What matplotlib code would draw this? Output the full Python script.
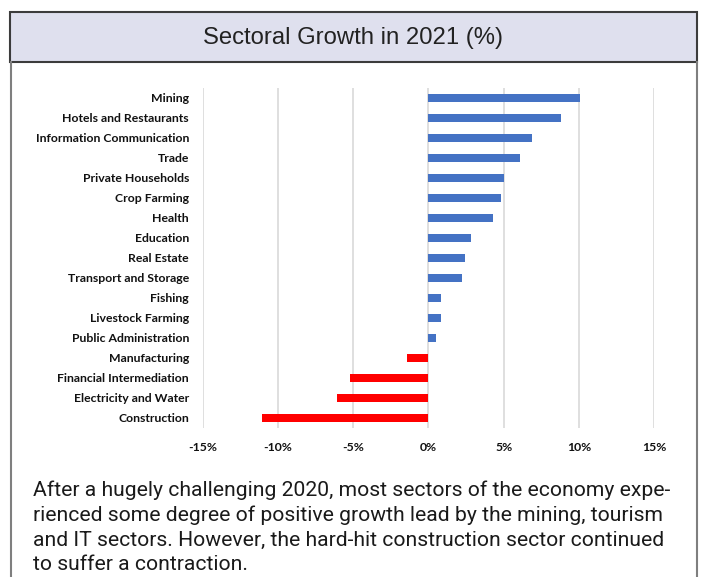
import matplotlib.pyplot as plt
from matplotlib.patches import Rectangle
from matplotlib.lines import Line2D

# Sector growth for 2021, top row first
sectors = ["Mining", "Hotels and Restaurants", "Information Communication", "Trade",
           "Private Households", "Crop Farming", "Health", "Education", "Real Estate",
           "Transport and Storage", "Fishing", "Livestock Farming", "Public Administration",
           "Manufacturing", "Financial Intermediation", "Electricity and Water", "Construction"]
growth = [10.1, 8.8, 6.9, 6.1, 5.0, 4.85, 4.3, 2.8, 2.45, 2.2, 0.8, 0.8, 0.5,
          -1.4, -5.25, -6.1, -11.1]
ticks = [-15, -10, -5, 0, 5, 10, 15]

title = "Sectoral Growth in 2021 (%)"
caption = ["After a hugely challenging 2020, most sectors of the economy expe-",
           "rienced some degree of positive growth lead by the mining, tourism",
           "and IT sectors. However, the hard-hit construction sector continued",
           "to suffer a contraction."]

W, H = 701, 577
fig = plt.figure(figsize=(W / 100, H / 100), dpi=100)

def px(x, y):
    return x / W, 1 - y / H

# outer frame and title band
x0, y0 = px(10, 62)
x1, y1 = px(697, 12)
fig.patches.append(Rectangle((x0, y0), x1 - x0, y1 - y0, transform=fig.transFigure,
                             facecolor="#dfe0ee", edgecolor="#3c3c3c", linewidth=1.5))
for xx in (11, 697):
    fig.lines.append(Line2D([xx / W, xx / W], [0, y0], transform=fig.transFigure,
                            color="#7f7f7f", linewidth=1.5))
tx, ty = px(353, 38)
fig.text(tx, ty, title, ha="center", va="center", fontsize=17.2,
         family="Liberation Sans", color="#222222")

# bar chart
left, top = px(203, 88)
right, bottom = px(654, 428)
ax = fig.add_axes([left, bottom, right - left, top - bottom])
ypos = list(range(len(sectors)))[::-1]
colors = ["#4472c4" if v >= 0 else "#ff0000" for v in growth]
ax.barh(ypos, growth, height=0.38, color=colors, zorder=3)
ax.set_xlim(-15, 15)
ax.set_ylim(-0.5, len(sectors) - 0.5)
ax.set_xticks(ticks)
ax.set_xticklabels([f"{t}%" for t in ticks])
ax.set_yticks(ypos)
ax.set_yticklabels(sectors)
ax.grid(axis="x", color="#d9d9d9", linewidth=1.2, zorder=0)
for s in ax.spines.values():
    s.set_visible(False)
ax.tick_params(length=0)
ax.tick_params(axis="y", pad=10)
ax.tick_params(axis="x", pad=10)
for lab in ax.get_xticklabels() + ax.get_yticklabels():
    lab.set_fontfamily("Lato")
    lab.set_fontweight("bold")
    lab.set_fontsize(8.8)
    lab.set_color("#111111")

# caption below the chart
for i, line in enumerate(caption):
    cx, cy = px(33, 490 + i * 25)
    fig.text(cx, cy, line, ha="left", va="center", fontsize=15.25,
             family="Roboto", color="#1a1a1a")

fig.savefig("out.png", dpi=100)
